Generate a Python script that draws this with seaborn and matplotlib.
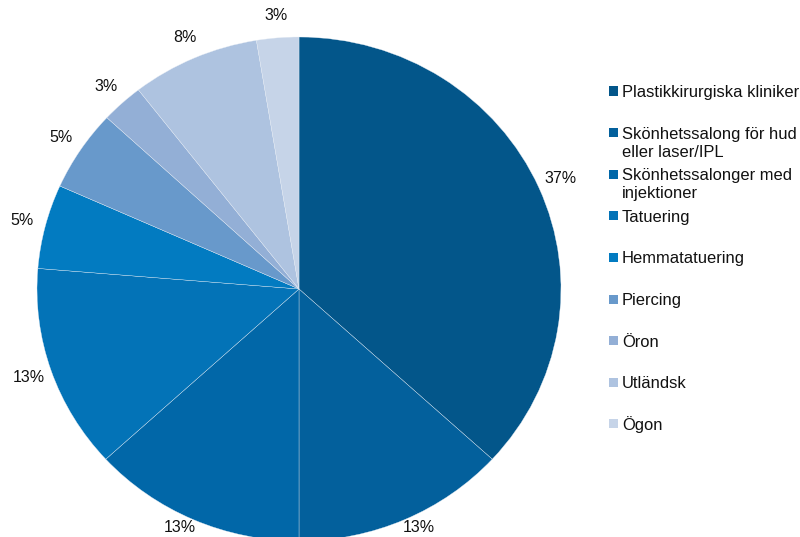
import matplotlib
matplotlib.use('Agg')
import matplotlib.pyplot as plt
import seaborn as sns
import numpy as np
from matplotlib.patches import Rectangle

categories = ["Plastikkirurgiska kliniker",
              "Skönhetssalong för hud\neller laser/IPL",
              "Skönhetssalonger med\ninjektioner",
              "Tatuering", "Hemmatatuering", "Piercing",
              "Öron", "Utländsk", "Ögon"]
shares = [36.8, 13.2, 13.2, 13.1, 5.4, 5.2, 2.6, 7.9, 2.6]
colors = ["#03568A", "#03609C", "#0167A8", "#0373B7", "#027BC1",
          "#6899CB", "#93AFD6", "#AEC3E0", "#C6D4E8"]

sns.set_theme(style="white")
plt.rcParams['font.family'] = ['Liberation Sans', 'DejaVu Sans']

W, H = 800, 537
fig = plt.figure(figsize=(W / 100, H / 100), dpi=100)
fig.patch.set_facecolor('white')

# pie geometry in pixels
cx, cy, rx, ry = 299, 289, 262, 252
ax = fig.add_axes([(cx - rx) / W, (H - cy - ry) / H, 2 * rx / W, 2 * ry / H])
wedges, texts, autotexts = ax.pie(
    shares, colors=colors, startangle=90, counterclock=False,
    autopct=lambda p: f"{p:.0f}%", pctdistance=1.09,
    wedgeprops=dict(linewidth=0.25, edgecolor='#e8eef6'),
    textprops=dict(fontsize=11.5, color='#111111'))
ax.set_aspect('auto')
ax.set_xlim(-1, 1)
ax.set_ylim(-1, 1)
ax.axis('off')

# keep labels inside the figure (push up, slight outward nudge)
ylim_data = -(528 - cy) / ry
for t in autotexts:
    x, y = t.get_position()
    if y < ylim_data:
        t.set_position((x * 1.04, ylim_data))
    t.set_clip_on(False)

# manual legend
y0, step, line_h = 91, 41.6, 18
for i, (lab, col) in enumerate(zip(categories, colors)):
    yc = y0 + step * i
    fig.add_artist(Rectangle((609 / W, 1 - (yc + 4.5) / H), 9 / W, 9 / H,
                             transform=fig.transFigure, facecolor=col,
                             edgecolor='none'))
    for j, line in enumerate(lab.split("\n")):
        fig.text(622 / W, 1 - (yc + 6 + j * line_h) / H, line,
                 va='baseline', ha='left', fontsize=11.9, color='#111111')

fig.savefig('out.png', dpi=100)
